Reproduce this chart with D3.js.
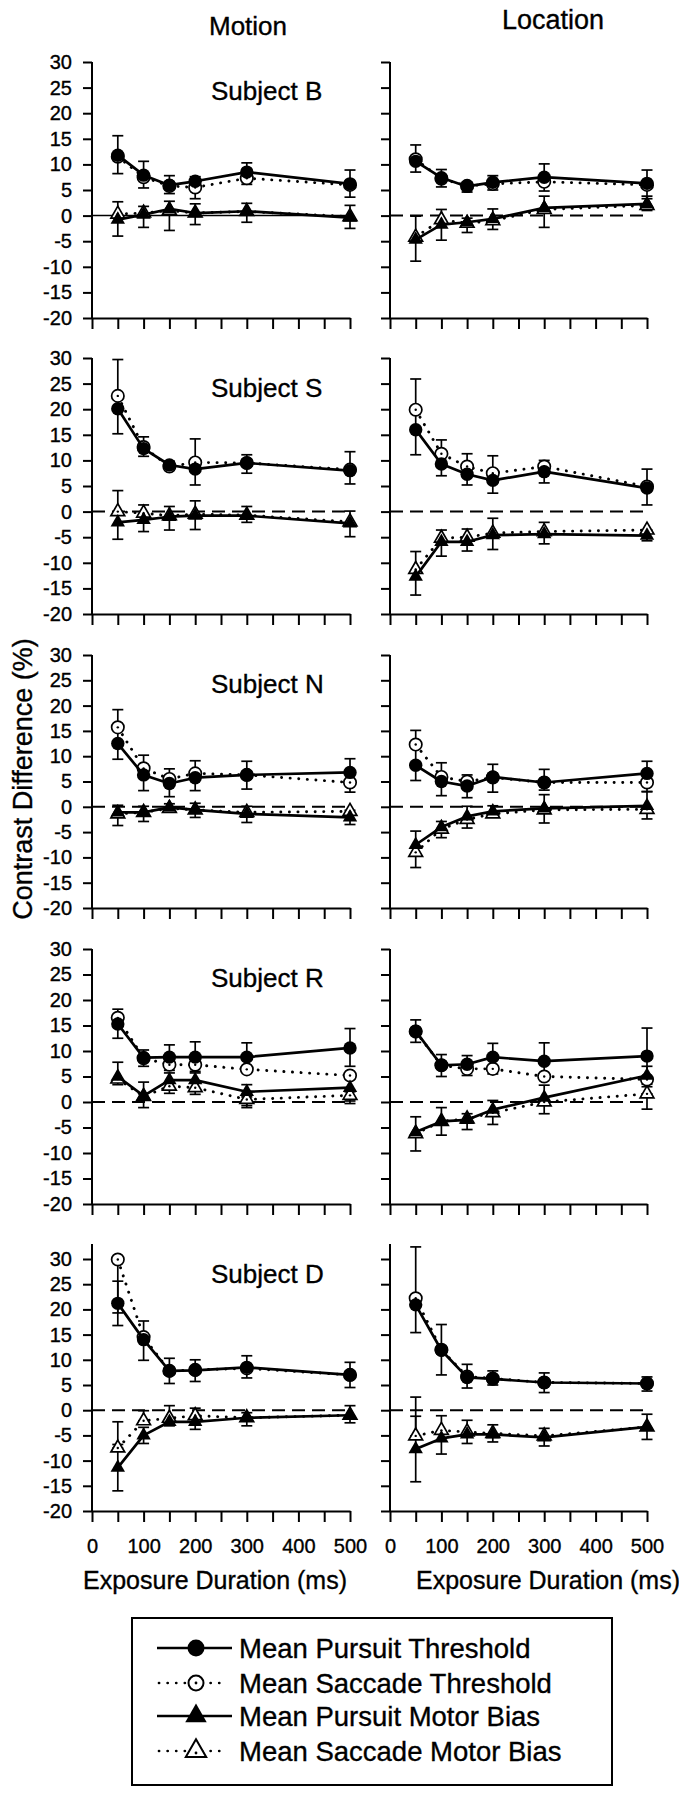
<!DOCTYPE html>
<html><head><meta charset="utf-8">
<script src="https://cdnjs.cloudflare.com/ajax/libs/d3/7.8.5/d3.min.js"></script>
<style>
body{margin:0;background:#fff}
svg{display:block}
text{font-family:"Liberation Sans",Arial,Helvetica,sans-serif;fill:#000;stroke:#000;stroke-width:0.35px}
</style>
</head><body>
<svg id="c" width="679" height="1800"></svg>
<script>
// ---------- DATA ----------
const durations = [50, 100, 150, 200, 300, 500];
const subjects = ["B", "S", "N", "R", "D"];
const conditions = ["Motion", "Location"];
const xTickValues = [0, 50, 100, 150, 200, 250, 300, 350, 400, 450, 500];
const xTickLabels = [0, 100, 200, 300, 400, 500];
const yTickValues = [-20, -15, -10, -5, 0, 5, 10, 15, 20, 25, 30];
const legendLabels = ["Mean Pursuit Threshold", "Mean Saccade Threshold", "Mean Pursuit Motor Bias", "Mean Saccade Motor Bias"];
const yAxisTitle = "Contrast Difference (%)";
const xAxisTitle = "Exposure Duration (ms)";

// panel order: B-Motion, B-Location, S-Motion, S-Location, N-Motion, N-Location, R-Motion, R-Location, D-Motion, D-Location
const pursuitThreshold = [
  [11.8, 7.9, 5.95, 6.7, 8.5, 6.2],
  [10.6, 7.4, 5.7, 6.5, 7.5, 6.3],
  [20.1, 12.3, 9.1, 8.3, 9.5, 8.0],
  [16.0, 9.3, 7.3, 6.1, 7.8, 4.6],
  [12.5, 6.3, 4.6, 5.75, 6.3, 6.8],
  [8.2, 5.0, 4.1, 5.9, 4.8, 6.6],
  [15.3, 8.7, 8.8, 8.8, 8.8, 10.6],
  [13.9, 7.2, 7.4, 8.8, 8.0, 9.0],
  [21.2, 14.0, 7.8, 7.9, 8.5, 7.0],
  [20.9, 11.9, 6.5, 6.2, 5.5, 5.3]
];
const pursuitThresholdLo = [
  [8.2, 5.4, 4.3, 3.3, 6.1, 3.6],
  [8.5, 5.6, 4.6, 5.0, 4.8, 3.8],
  [15.2, 10.8, 8.2, 5.2, 7.5, 5.4],
  [11.1, 7.0, 5.2, 3.6, 5.6, 1.3],
  [9.4, 3.2, 2.0, 3.2, 3.5, 2.9],
  [5.2, 2.2, 1.8, 2.9, 3.3, 3.0],
  [12.5, 7.0, 6.2, 6.0, 6.2, 7.0],
  [11.7, 5.0, 5.2, 5.5, 4.5, 3.5],
  [16.8, 9.9, 5.3, 5.7, 6.4, 4.5],
  [15.4, 7.0, 4.4, 5.0, 3.5, 3.8]
];
const pursuitThresholdHi = [
  [15.6, 10.6, 7.8, 7.6, 10.3, 8.9],
  [13.8, 9.0, 6.5, 7.8, 10.1, 8.9],
  [29.7, 14.6, 9.8, 14.2, 11.1, 11.7],
  [25.9, 14.0, 11.3, 10.9, 10.0, 8.3],
  [19.2, 10.2, 7.5, 9.1, 9.0, 9.5],
  [15.1, 8.7, 6.3, 8.4, 7.4, 9.0],
  [18.2, 10.2, 11.2, 11.8, 11.6, 14.4],
  [16.1, 9.3, 9.1, 11.5, 11.6, 14.5],
  [25.6, 17.7, 10.3, 10.0, 10.8, 9.5],
  [32.4, 17.0, 9.1, 7.8, 7.4, 6.6]
];
const saccadeThreshold = [
  [11.5, 7.5, 5.8, 5.5, 7.3, 6.0],
  [11.0, 7.2, 5.8, 6.2, 6.6, 6.0],
  [22.6, 12.6, 8.8, 9.6, 9.5, 8.2],
  [19.9, 11.3, 8.8, 7.5, 8.8, 4.9],
  [15.7, 7.6, 5.5, 6.6, 6.3, 4.8],
  [12.3, 5.9, 5.0, 5.8, 4.8, 4.8],
  [16.5, 8.6, 7.3, 7.3, 6.4, 5.2],
  [13.8, 7.2, 6.5, 6.5, 5.0, 4.4],
  [29.9, 14.5, 7.8, 8.0, 8.3, 7.0],
  [22.2, 12.0, 6.7, 6.3, 5.5, 5.3]
];
const saccadeThresholdLo = [
  [null, null, null, null, null, null],
  [null, null, null, null, null, null],
  [null, null, null, null, null, null],
  [null, null, null, null, null, null],
  [null, null, null, null, null, null],
  [null, null, null, null, null, null],
  [null, null, null, null, null, null],
  [null, null, null, null, null, null],
  [19.3, null, null, null, null, null],
  [null, null, null, null, null, null]
];
const saccadeThresholdHi = [
  [null, null, null, null, null, null],
  [null, null, null, null, null, null],
  [null, null, null, null, null, null],
  [null, null, null, null, null, null],
  [null, null, null, null, null, null],
  [null, null, null, null, null, null],
  [null, null, null, null, null, null],
  [null, null, null, null, null, null],
  [29.9, null, null, null, null, null],
  [null, null, null, null, null, null]
];
const pursuitBias = [
  [-0.8, 0.2, 1.3, 0.5, 0.85, -0.4],
  [-4.7, -1.75, -1.3, -0.65, 1.5, 2.3],
  [-2.1, -1.6, -1.0, -0.8, -0.8, -2.3],
  [-12.7, -5.9, -5.9, -4.6, -4.4, -4.7],
  [-1.1, -1.1, -0.1, -0.6, -1.4, -2.1],
  [-7.5, -4.0, -1.9, -0.9, -0.3, 0.2],
  [5.0, 1.2, 4.3, 4.3, 2.0, 2.8],
  [-5.9, -3.8, -3.5, -1.5, 0.85, 5.2],
  [-11.4, -5.0, -2.3, -2.3, -1.5, -1.0],
  [-7.7, -5.6, -4.8, -4.8, -5.4, -3.3]
];
const pursuitBiasLo = [
  [-4.0, -2.3, -2.9, -1.75, -1.3, -2.5],
  [-8.9, -4.8, -3.3, -2.7, -2.3, 1.0],
  [-5.4, -3.9, -3.6, -3.5, -2.1, -4.9],
  [-16.3, -8.7, -7.7, -7.4, -6.3, -5.7],
  [-3.7, -2.9, -0.8, -2.1, -3.1, -3.5],
  [-12.0, -6.1, -4.2, -1.4, -3.2, -2.4],
  [3.4, -1.1, 1.7, 1.5, -0.7, 0.2],
  [-9.6, -6.5, -5.4, -4.4, -2.3, 3.0],
  [-16.0, -6.6, -3.1, -3.8, -3.1, -2.5],
  [-14.2, -8.7, -6.6, -6.3, -7.1, -5.8]
];
const pursuitBiasHi = [
  [2.7, 1.8, 2.8, 2.3, 2.4, 2.0],
  [-0.1, 1.2, -0.5, 1.3, 3.8, 3.3],
  [4.1, 1.3, 1.0, 2.1, 1.0, 0.1],
  [-7.8, -3.6, -3.4, -1.3, -2.1, -3.6],
  [0.3, 0.1, 0.6, 0.7, 0.1, -0.7],
  [-4.8, -2.9, 0.1, 0.2, 2.4, 3.0],
  [7.8, 3.9, 5.7, 5.7, 3.4, 4.5],
  [-2.9, -1.1, -2.3, 0.3, 3.3, 7.0],
  [-6.8, -3.4, 0.9, 0.4, -0.5, 0.9],
  [-1.2, -1.1, -2.0, -2.9, -3.6, -0.8]
];
const saccadeBias = [
  [0.3, 0.5, 1.0, 0.5, 0.8, -0.2],
  [-4.2, -0.8, -1.5, -1.0, 1.2, 2.0],
  [0.0, -0.3, -0.8, -0.5, -0.7, -2.0],
  [-11.3, -5.2, -5.0, -4.2, -3.9, -3.6],
  [-1.4, -1.1, -0.3, -0.6, -1.1, -0.9],
  [-9.0, -4.4, -2.5, -1.4, -0.6, -0.5],
  [4.5, 1.1, 3.1, 2.8, 0.5, 1.3],
  [-6.2, -3.8, -3.3, -2.1, 0.0, 1.6],
  [-7.5, -2.1, -1.6, -1.1, -1.5, -1.0],
  [-5.1, -4.0, -4.3, -4.6, -5.1, -3.3]
];
const saccadeBiasLo = [
  [null, null, null, null, null, null],
  [null, null, null, null, null, null],
  [null, null, null, null, null, null],
  [null, null, null, null, null, null],
  [null, null, null, null, null, null],
  [null, null, null, null, null, null],
  [null, null, null, null, -1.1, -0.3],
  [null, null, null, null, null, -1.4],
  [-7.5, -2.1, null, null, null, null],
  [-5.1, null, null, null, null, null]
];
const saccadeBiasHi = [
  [null, null, null, null, null, null],
  [null, null, null, null, null, null],
  [null, null, null, null, null, null],
  [null, null, null, null, null, null],
  [null, null, null, null, null, null],
  [null, null, null, null, null, null],
  [null, null, null, null, 1.0, 2.0],
  [null, null, null, null, null, 1.6],
  [-2.3, -0.1, null, null, null, null],
  [2.6, null, null, null, null, null]
];

// ---------- LAYOUT ----------
const svg = d3.select("#c");
const colRange = [[92, 350], [390, 647]];
const rowTop = [62, 358, 655, 949, 1259];
const rowBottom = [318, 614, 908, 1204, 1511];
const axisTopValue = [30, 30, 30, 30, 33];
const subjectBaseline = [100, 397, 693, 987, 1283];

// column titles
svg.append("text").attr("x", 248).attr("y", 35).attr("text-anchor", "middle")
  .style("font-size", "26px").text(conditions[0]);
svg.append("text").attr("x", 553).attr("y", 29).attr("text-anchor", "middle")
  .style("font-size", "27px").text(conditions[1]);

// y axis title
svg.append("text").attr("transform", "translate(32,779) rotate(-90)")
  .attr("text-anchor", "middle").style("font-size", "27px").text(yAxisTitle);

const series = [
  {v: pursuitThreshold, lo: pursuitThresholdLo, hi: pursuitThresholdHi, solid: true, shape: "circle"},
  {v: saccadeThreshold, lo: saccadeThresholdLo, hi: saccadeThresholdHi, solid: false, shape: "circle"},
  {v: pursuitBias, lo: pursuitBiasLo, hi: pursuitBiasHi, solid: true, shape: "triangle"},
  {v: saccadeBias, lo: saccadeBiasLo, hi: saccadeBiasHi, solid: false, shape: "triangle"}
];

const triFilled = d3.symbol(d3.symbolTriangle, 90)();
const triOpen = d3.symbol(d3.symbolTriangle, 82)();

subjects.forEach((subj, r) => {
  conditions.forEach((cond, c) => {
    const p = r * 2 + c;
    const x = d3.scaleLinear().domain([0, 500]).range(colRange[c]);
    const y = d3.scaleLinear().domain([-20, 30]).range([rowBottom[r], rowTop[r]]);
    const g = svg.append("g");

    // y axis
    const ya = g.append("g").attr("transform", `translate(${colRange[c][0]},0)`)
      .call(d3.axisLeft(y).tickValues(yTickValues).tickSize(9).tickSizeOuter(0).tickPadding(11)
        .tickFormat(d => c === 0 ? String(d) : ""));
    ya.select(".domain").remove();
    ya.append("line").attr("x1", 0).attr("x2", 0).attr("y1", y(-20)).attr("y2", y(axisTopValue[r]))
      .attr("stroke", "#000").attr("stroke-width", 2);
    ya.selectAll(".tick line").attr("stroke-width", 2);
    ya.selectAll("text").style("font-size", "20px").attr("fill", "#000");

    // x axis
    const xa = g.append("g").attr("transform", `translate(0,${rowBottom[r]})`)
      .call(d3.axisBottom(x).tickValues(xTickValues).tickSize(11).tickSizeOuter(0).tickPadding(17)
        .tickFormat(d => (r === subjects.length - 1 && xTickLabels.includes(d)) ? String(d) : ""));
    xa.select(".domain").attr("stroke-width", 2);
    xa.selectAll(".tick line").attr("stroke-width", 2);
    xa.selectAll("text").style("font-size", "20px").attr("fill", "#000");

    // zero line
    const zl = g.append("line").attr("x1", x(0)).attr("x2", x(500)).attr("y1", y(0)).attr("y2", y(0))
      .attr("stroke", "#000").attr("stroke-width", 2);
    if (p === 0) zl.attr("stroke-width", 1.5);
    else zl.attr("stroke-dasharray", "13,7");

    // subject label
    if (c === 0) {
      g.append("text").attr("x", 211).attr("y", subjectBaseline[r])
        .style("font-size", "26px").text("Subject " + subj);
    }

    // error bars
    series.forEach(s => {
      durations.forEach((d, i) => {
        const lo = s.lo[p][i], hi = s.hi[p][i];
        if (lo === null || hi === null) return;
        const xx = x(d);
        const eg = g.append("g").attr("stroke", "#000").attr("stroke-width", 1.7);
        eg.append("line").attr("x1", xx).attr("x2", xx).attr("y1", y(lo)).attr("y2", y(hi));
        eg.append("line").attr("x1", xx - 5.5).attr("x2", xx + 5.5).attr("y1", y(lo)).attr("y2", y(lo));
        eg.append("line").attr("x1", xx - 5.5).attr("x2", xx + 5.5).attr("y1", y(hi)).attr("y2", y(hi));
      });
    });

    const line = d3.line().x((d, i) => x(durations[i])).y(d => y(d));

    // dotted saccade lines
    series.filter(s => !s.solid).forEach(s => {
      g.append("path").attr("d", line(s.v[p])).attr("fill", "none").attr("stroke", "#000")
        .attr("stroke-width", 2.9).attr("stroke-linecap", "round").attr("stroke-dasharray", "0.1 8.5");
    });
    // open markers
    series.filter(s => !s.solid).forEach(s => {
      s.v[p].forEach((v, i) => {
        const cx = x(durations[i]), cy = y(v);
        if (s.shape === "circle") {
          g.append("circle").attr("cx", cx).attr("cy", cy).attr("r", 6.2)
            .attr("fill", "#fff").attr("stroke", "#000").attr("stroke-width", 1.7);
        } else {
          g.append("path").attr("d", triOpen).attr("transform", `translate(${cx},${cy})`)
            .attr("fill", "#fff").attr("stroke", "#000").attr("stroke-width", 1.7);
        }
        g.append("circle").attr("cx", cx).attr("cy", cy).attr("r", 1.2).attr("fill", "#000");
      });
    });
    // solid pursuit lines
    series.filter(s => s.solid).forEach(s => {
      g.append("path").attr("d", line(s.v[p])).attr("fill", "none").attr("stroke", "#000")
        .attr("stroke-width", 2.7).attr("stroke-linejoin", "round");
    });
    // filled markers
    series.filter(s => s.solid).forEach(s => {
      s.v[p].forEach((v, i) => {
        const cx = x(durations[i]), cy = y(v);
        if (s.shape === "circle") {
          g.append("circle").attr("cx", cx).attr("cy", cy).attr("r", 6.7).attr("fill", "#000");
        } else {
          g.append("path").attr("d", triFilled).attr("transform", `translate(${cx},${cy})`).attr("fill", "#000");
        }
      });
    });
  });
});

// x axis titles
svg.append("text").attr("x", 83).attr("y", 1589).style("font-size", "25px").text(xAxisTitle);
svg.append("text").attr("x", 416).attr("y", 1589).style("font-size", "25px").text(xAxisTitle);

// legend
const lg = svg.append("g");
lg.append("rect").attr("x", 132).attr("y", 1618).attr("width", 480).attr("height", 167)
  .attr("fill", "none").attr("stroke", "#000").attr("stroke-width", 2);
const legendBaselines = [1658, 1693, 1726, 1761];
const legendSolid = [true, false, true, false];
const legendShape = ["circle", "circle", "triangle", "triangle"];
legendLabels.forEach((lab, i) => {
  const by = legendBaselines[i], cy = by - 10, cx = 196;
  if (legendSolid[i]) {
    lg.append("line").attr("x1", 157).attr("x2", 232).attr("y1", cy).attr("y2", cy)
      .attr("stroke", "#000").attr("stroke-width", 2.7);
    if (legendShape[i] === "circle") lg.append("circle").attr("cx", cx).attr("cy", cy).attr("r", 8.5).attr("fill", "#000");
    else lg.append("path").attr("d", d3.symbol(d3.symbolTriangle, 200)()).attr("transform", `translate(${cx},${cy})`).attr("fill", "#000");
  } else {
    lg.append("line").attr("x1", 159).attr("x2", 227).attr("y1", cy).attr("y2", cy)
      .attr("stroke", "#000").attr("stroke-width", 2.7).attr("stroke-linecap", "round").attr("stroke-dasharray", "0.1 8.5");
    if (legendShape[i] === "circle") lg.append("circle").attr("cx", cx).attr("cy", cy).attr("r", 7.5)
      .attr("fill", "#fff").attr("stroke", "#000").attr("stroke-width", 2);
    else lg.append("path").attr("d", d3.symbol(d3.symbolTriangle, 180)()).attr("transform", `translate(${cx},${cy})`)
      .attr("fill", "#fff").attr("stroke", "#000").attr("stroke-width", 2);
    lg.append("circle").attr("cx", cx).attr("cy", cy + (legendShape[i] === "triangle" ? 2 : 0)).attr("r", 1.4).attr("fill", "#000");
  }
  lg.append("text").attr("x", 239).attr("y", by).style("font-size", "27.5px").text(lab);
});
</script>
</body></html>
